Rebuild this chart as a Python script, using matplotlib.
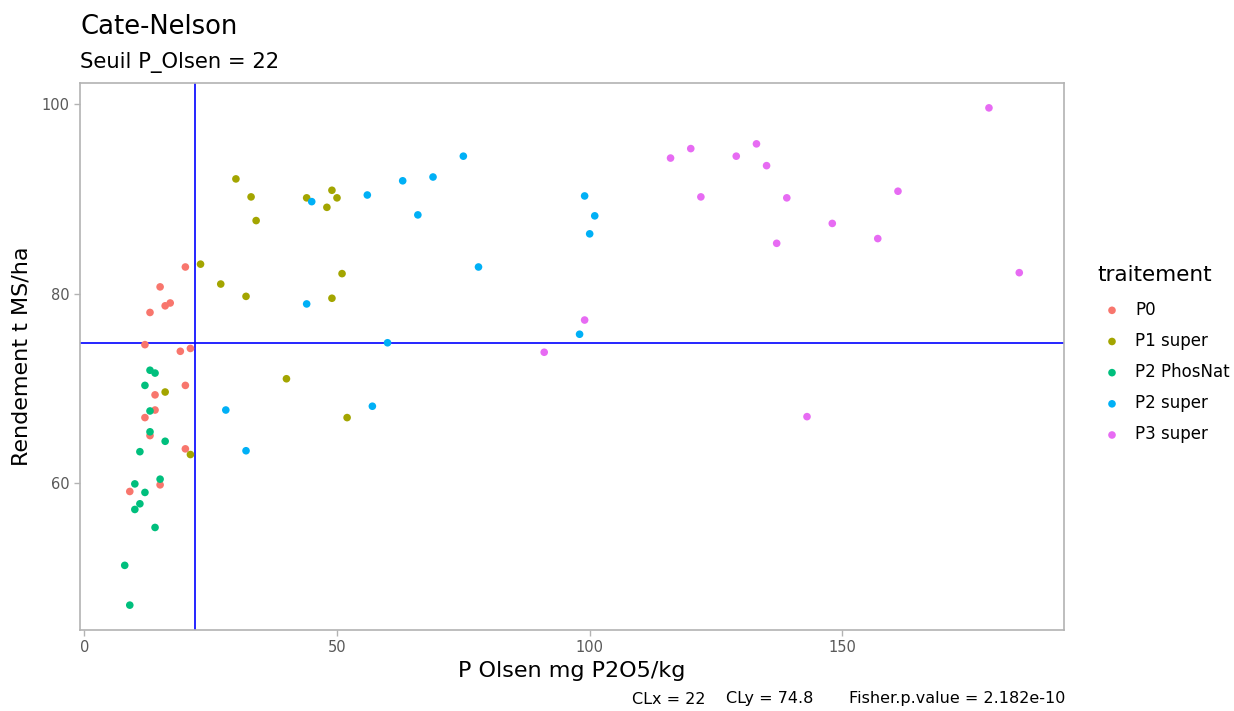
import matplotlib.pyplot as plt
import numpy as np

# seuils Cate-Nelson
CLX = 22
CLY = 74.8
P_VALUE = '2.182e-10'

traitements = ['P0', 'P1 super', 'P2 PhosNat', 'P2 super', 'P3 super']
couleurs = ['#F8766D', '#A3A500', '#00BF7D', '#00B0F6', '#E76BF3']

# P Olsen (mg P2O5/kg) et rendement (t MS/ha) par traitement
p0_x = [20, 15, 16, 17, 13, 12, 19, 21, 20, 14, 14, 12, 13, 20, 15, 9]
p0_y = [82.8, 80.7, 78.7, 79.0, 78.0, 74.6, 73.9, 74.2, 70.3, 69.3, 67.7, 66.9, 65.0, 63.6, 59.8, 59.1]

p1_super_x = [23, 27, 32, 16, 21, 30, 33, 34, 44, 49, 50, 48, 51, 49, 40, 52]
p1_super_y = [83.1, 81.0, 79.7, 69.6, 63.0, 92.1, 90.2, 87.7, 90.1, 90.9, 90.1, 89.1, 82.1, 79.5, 71.0, 66.9]

p2_phosnat_x = [13, 14, 12, 13, 13, 16, 11, 15, 10, 12, 11, 10, 14, 8, 9]
p2_phosnat_y = [71.9, 71.6, 70.3, 67.6, 65.4, 64.4, 63.3, 60.4, 59.9, 59.0, 57.8, 57.2, 55.3, 51.3, 47.1]

p2_super_x = [28, 32, 75, 63, 69, 56, 45, 66, 78, 44, 60, 57, 99, 101, 100, 98]
p2_super_y = [67.7, 63.4, 94.5, 91.9, 92.3, 90.4, 89.7, 88.3, 82.8, 78.9, 74.8, 68.1, 90.3, 88.2, 86.3, 75.7]

p3_super_x = [116, 120, 129, 133, 135, 122, 137, 99, 91, 179, 139, 161, 148, 157, 185, 143]
p3_super_y = [94.3, 95.3, 94.5, 95.8, 93.5, 90.2, 85.3, 77.2, 73.8, 99.6, 90.1, 90.8, 87.4, 85.8, 82.2, 67.0]

series_x = [p0_x, p1_super_x, p2_phosnat_x, p2_super_x, p3_super_x]
series_y = [p0_y, p1_super_y, p2_phosnat_y, p2_super_y, p3_super_y]

W, H = 1234, 711
fig = plt.figure(figsize=(W / 100, H / 100), dpi=100)
ax = fig.add_axes([80 / W, 1 - 630 / H, 984 / W, 547 / H])

for nom, col, xs, ys in zip(traitements, couleurs, series_x, series_y):
    ax.scatter(xs, ys, s=30, color=col, edgecolors='none', label=nom, zorder=3)

ax.axvline(CLX, color='blue', lw=1.2, zorder=2)
ax.axhline(CLY, color='blue', lw=1.2, zorder=2)

# marge de 5% comme ggplot
all_x = np.concatenate([np.asarray(v, float) for v in series_x])
all_y = np.concatenate([np.asarray(v, float) for v in series_y])
dx = (all_x.max() - all_x.min()) * 0.05
dy = (all_y.max() - all_y.min()) * 0.05
ax.set_xlim(all_x.min() - dx, all_x.max() + dx)
ax.set_ylim(all_y.min() - dy, all_y.max() + dy)

ax.set_xticks([0, 50, 100, 150])
ax.set_yticks([60, 80, 100])
for sp in ax.spines.values():
    sp.set_color('#b3b3b3')
    sp.set_linewidth(1.2)
ax.tick_params(colors='#b3b3b3', labelcolor='#595959', labelsize=10.5, length=4, width=1)

ax.set_xlabel('P Olsen mg P2O5/kg', fontsize=16, color='black', labelpad=4)
ax.set_ylabel('Rendement t MS/ha', fontsize=16, color='black', labelpad=7)

fig.text(80 / W, 1 - 34.5 / H, 'Cate-Nelson', fontsize=18.6, va='baseline', ha='left')
fig.text(80 / W, 1 - 68 / H, f'Seuil P_Olsen = {CLX}', fontsize=15.2, va='baseline', ha='left')

# légende des traitements
leg = fig.legend(loc='upper left', bbox_to_anchor=(1097 / W, 1 - 265 / H),
                 frameon=False, title='traitement', title_fontsize=15.5, fontsize=12,
                 handlelength=1.8, handletextpad=0.48, labelspacing=0.79,
                 borderpad=0, borderaxespad=0, alignment='left', scatterpoints=1)
leg._legend_box.sep = 11.3

# légende du bas
fig.text(632 / W, 1 - 703.5 / H, f'CLx = {CLX}', fontsize=11.5, va='baseline', ha='left')
fig.text(770 / W, 1 - 703.5 / H, f'CLy = {CLY}', fontsize=11.5, va='baseline', ha='center')
fig.text(1065 / W, 1 - 703.5 / H, f'Fisher.p.value = {P_VALUE}', fontsize=11.5,
         va='baseline', ha='right')

fig.savefig('out.png', dpi=100)
